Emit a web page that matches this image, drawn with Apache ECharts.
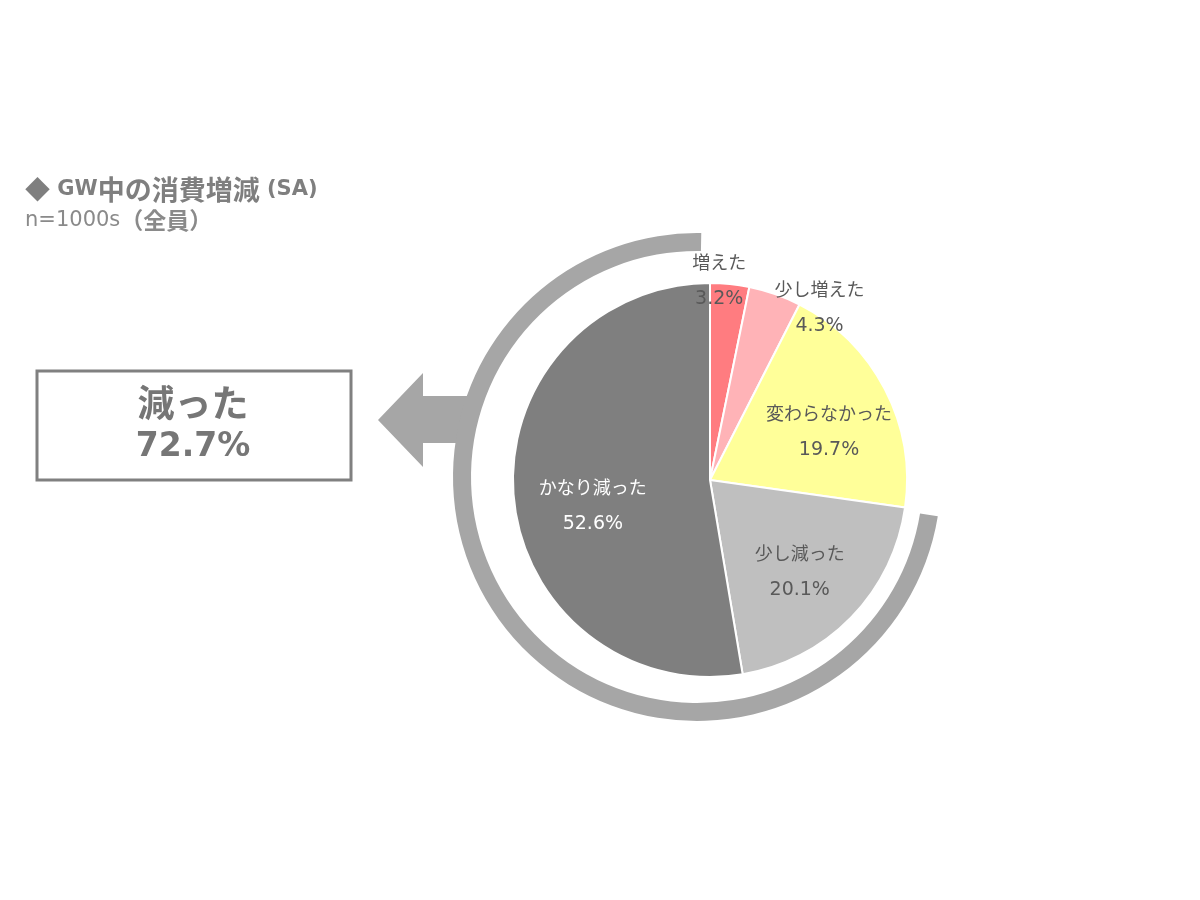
<!DOCTYPE html>
<html>
<head>
<meta charset="utf-8">
<script src="https://cdn.jsdelivr.net/npm/echarts@6/dist/echarts.min.js"></script>
<style>
    html, body { margin: 0; padding: 0; background: #ffffff; }
    #chart { width: 1200px; height: 900px; }
</style>
</head>
<body>
<div id="chart"></div>
<script>
// GW中の消費増減 (SA)
var categories = ['増えた', '少し増えた', '変わらなかった', '少し減った', 'かなり減った'];
var values = [3.2, 4.3, 19.7, 20.1, 52.6];
// 減った = 少し減った + かなり減った
var decreasedNames = ['少し減った', 'かなり減った'];

var sliceColors = ['#ff7c80', '#ffb3b7', '#ffff99', '#bfbfbf', '#7f7f7f'];
var labelColors = ['#595959', '#595959', '#595959', '#595959', '#ffffff'];
// ラベルの位置調整（内側ラベルからのずれ）
var labelShift = [[-1, -98], [76, -76], [29, -1], [17, 21], [-16, 18]];

var decreased = 0;
categories.forEach(function (c, i) {
    if (decreasedNames.indexOf(c) >= 0) decreased += values[i];
});
decreased = Math.round(decreased * 10) / 10;

var jp = '"Noto Sans CJK JP", sans-serif';
var latin = '"DejaVu Sans", "Noto Sans CJK JP", sans-serif';
var chart = echarts.init(document.getElementById('chart'));

var pieData = categories.map(function (c, i) {
    return {
        name: c,
        value: values[i],
        itemStyle: { color: sliceColors[i] },
        label: {
            rich: {
                n: { fontFamily: jp, fontSize: 18, lineHeight: 36, color: labelColors[i] },
                p: { fontFamily: latin, fontSize: 19, lineHeight: 38, color: labelColors[i] }
            }
        }
    };
});

var option = {
    backgroundColor: '#ffffff',
    animation: false,
    title: {
        text: '{d|◆}{l| GW}{c|中の消費増減}{l| (SA)}',
        subtext: '{a|n=1000s}{b|（全員）}',
        left: 20,
        top: 171,
        itemGap: 6,
        textStyle: {
            rich: {
                d: { fontFamily: jp, fontSize: 25, color: '#7f7f7f' },
                l: { fontFamily: latin, fontSize: 21, fontWeight: 'bold', color: '#7f7f7f' },
                c: { fontFamily: jp, fontSize: 27, fontWeight: 'bold', color: '#7f7f7f' }
            }
        },
        subtextStyle: {
            rich: {
                a: { fontFamily: latin, fontSize: 21, color: '#8a8a8a' },
                b: { fontFamily: jp, fontSize: 23, fontWeight: 'bold', color: '#8a8a8a' }
            }
        }
    },
    graphic: [
        {
            type: 'polygon',
            shape: {
                points: [[378, 420], [423, 373], [423, 396], [468, 396], [468, 443], [423, 443], [423, 467]]
            },
            style: { fill: '#a6a6a6' },
            z: 1
        },
        {
            type: 'rect',
            shape: { x: 37, y: 371, width: 314, height: 109 },
            style: { fill: '#ffffff', stroke: '#808080', lineWidth: 3 }
        },
        {
            type: 'text',
            x: 193,
            y: 425,
            style: {
                text: '{c|減った}\n{p|' + decreased.toFixed(1) + '%}',
                align: 'center',
                verticalAlign: 'middle',
                rich: {
                    c: { fontFamily: jp, fontSize: 37, fontWeight: 'bold', fill: '#767676', lineHeight: 44, align: 'center' },
                    p: { fontFamily: latin, fontSize: 33, fontWeight: 'bold', fill: '#767676', lineHeight: 44, align: 'center' }
                }
            }
        }
    ],
    series: [
        {
            // 減った の外周リング
            type: 'pie',
            center: [697, 477],
            radius: [226, 244],
            startAngle: 89,
            silent: true,
            label: { show: false },
            labelLine: { show: false },
            z: 2,
            data: [
                { name: 'other', value: Math.round((100 - decreased) * 10) / 10, itemStyle: { color: 'rgba(0,0,0,0)' } },
                { name: '減った', value: decreased, itemStyle: { color: '#a6a6a6' } }
            ]
        },
        {
            type: 'pie',
            center: [710, 480],
            radius: [0, 197],
            startAngle: 90,
            clockwise: true,
            z: 3,
            itemStyle: { borderColor: '#ffffff', borderWidth: 2 },
            label: {
                show: true,
                position: 'inside',
                rotate: 0,
                formatter: function (p) {
                    return '{n|' + p.name + '}\n{p|' + p.value.toFixed(1) + '%}';
                },
                align: 'center'
            },
            labelLine: { show: false },
            labelLayout: function (params) {
                var s = labelShift[params.dataIndex];
                return { dx: s[0], dy: s[1] };
            },
            data: pieData
        }
    ]
};
chart.setOption(option);
</script>
</body>
</html>
